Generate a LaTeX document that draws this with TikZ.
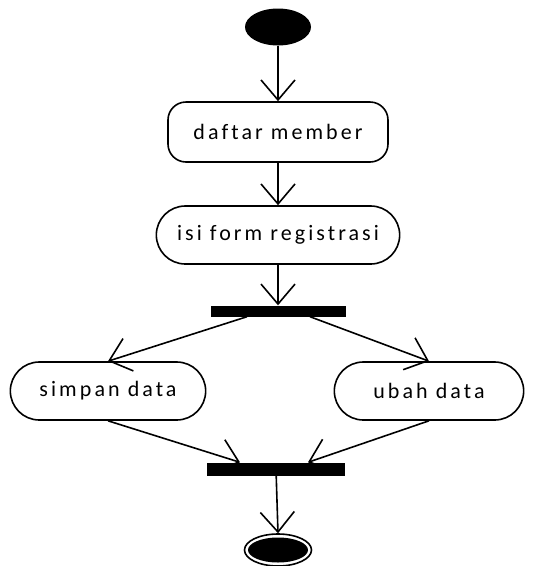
\documentclass[tikz,border=0pt]{standalone}
\usepackage{fontspec}
\setmainfont{Carlito}[LetterSpace=14, Ligatures={NoCommon}]
\usetikzlibrary{arrows.meta, shapes.geometric, shapes.misc}

\begin{document}
\begin{tikzpicture}[x=1pt, y=-1pt,
	flow/.style={line width=1.6pt, -{Straight Barb[length=20pt, width=34pt]}},
	act/.style={draw, line width=1.6pt, minimum height=58pt, font=\fontsize{22}{26}\selectfont},
	bar/.style={fill=black, inner sep=0pt}]
	\useasboundingbox (0, 0) rectangle (537, 566);

	\node[ellipse, fill=black, minimum width=66pt, minimum height=37pt] (start) at (278, 27) {};

	\node[act, rounded corners=18pt, minimum width=220pt, minimum height=60pt] (daftar) at (278, 132) {daftar member};
	\node[act, rounded rectangle, minimum width=250pt] (isi) at (278, 235) {isi form registrasi};

	\node[bar, minimum width=135pt, minimum height=11pt] (fork) at (278, 311) {};

	\node[act, rounded rectangle, minimum width=202pt] (simpan) at (108, 391) {simpan data};
	\node[act, rounded rectangle, minimum width=196pt] (ubah) at (429, 391) {ubah data};

	\node[bar, minimum width=138pt, minimum height=13pt] (join) at (276, 469) {};

	\node[ellipse, draw, line width=1.6pt, minimum width=67pt, minimum height=32pt] (end) at (278, 550) {};
	\node[ellipse, fill=black, minimum width=60pt, minimum height=25pt] (endin) at (278, 550) {};

	% Draw the flow between the activities
	\draw[flow] (start) -- (daftar);
	\draw[flow] (daftar) -- (isi);
	\draw[flow] (isi) -- (fork);
	\draw[flow] ([xshift=-31pt]fork.south) -- (simpan.north);
	\draw[flow] ([xshift=32pt]fork.south) -- (ubah.north);
	\draw[flow] (simpan.south) -- ([xshift=-36pt]join.north);
	\draw[flow] (ubah.south) -- ([xshift=32pt]join.north);
	\draw[flow] (join) -- (end.north);
\end{tikzpicture}
\end{document}
